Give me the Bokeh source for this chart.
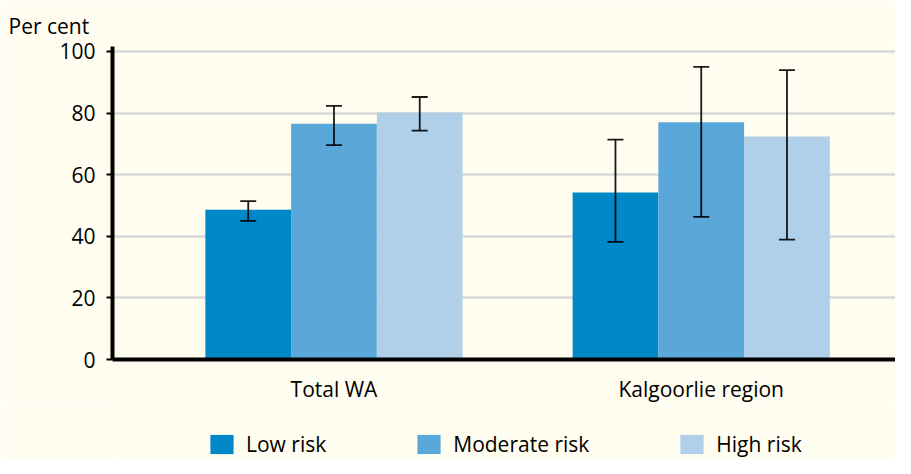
from bokeh.plotting import figure
from bokeh.layouts import column
from bokeh.models import (ColumnDataSource, Whisker, TeeHead, FixedTicker, Legend, LegendItem, Range1d)
from bokeh.embed import file_html
from bokeh.resources import INLINE

# ---- data ----
regions = ["Total WA", "Kalgoorlie region"]
series = ["Low risk", "Moderate risk", "High risk"]
low_vals = [48.6, 54.2]
mod_vals = [76.5, 77.0]
high_vals = [80.2, 72.4]
low_err_lo = [45.0, 38.2]
low_err_hi = [51.4, 71.4]
mod_err_lo = [69.6, 46.3]
mod_err_hi = [82.3, 95.0]
high_err_lo = [74.3, 38.9]
high_err_hi = [85.2, 93.9]
y_ticks = [0, 20, 40, 60, 80, 100]
colors = ["#0088C8", "#5AA8D9", "#B0D0EA"]

FONT = "Open Sans"
BG = "#FFFDEF"

p = figure(width=895, height=405, output_backend="svg", toolbar_location=None,
           x_range=Range1d(-0.6031, 1.529), y_range=Range1d(0, 101.6),
           min_border_left=112, min_border_right=0, min_border_top=46, min_border_bottom=44,
           background_fill_color=BG, border_fill_color=BG, outline_line_color=None)

width = 0.2335
offsets = [-width, 0.0, width]
vals = [low_vals, mod_vals, high_vals]
los = [low_err_lo, mod_err_lo, high_err_lo]
his = [low_err_hi, mod_err_hi, high_err_hi]

for i in range(3):
    xs = [k + offsets[i] for k in range(len(regions))]
    src = ColumnDataSource(dict(x=xs, top=vals[i], lo=los[i], hi=his[i]))
    p.vbar(x="x", top="top", width=width, source=src, fill_color=colors[i], line_color=None)
    w = Whisker(base="x", lower="lo", upper="hi", source=src, level="overlay",
                line_color="black", line_width=1.8, line_alpha=0.9,
                upper_head=TeeHead(size=16, line_color="black", line_width=1.8, line_alpha=0.9),
                lower_head=TeeHead(size=16, line_color="black", line_width=1.8, line_alpha=0.9))
    p.add_layout(w)

# grid
p.xgrid.visible = False
p.ygrid.ticker = FixedTicker(ticks=y_ticks[1:])
p.ygrid.grid_line_color = "#D9D9D9"
p.ygrid.grid_line_width = 2.5

# y axis
p.yaxis.ticker = FixedTicker(ticks=y_ticks)
p.yaxis.axis_line_width = 4
p.yaxis.axis_line_color = "black"
p.yaxis.major_tick_out = 6
p.yaxis.major_tick_in = 0
p.yaxis.major_tick_line_width = 2
p.yaxis.minor_tick_line_color = None
p.yaxis.major_label_standoff = 11
p.yaxis.major_label_text_font = FONT
p.yaxis.major_label_text_font_size = "21px"
p.yaxis.major_label_text_color = "black"

# x axis
p.xaxis.ticker = FixedTicker(ticks=[0, 1])
p.xaxis.major_label_overrides = {0: regions[0], 1: regions[1]}
p.xaxis.axis_line_width = 4
p.xaxis.axis_line_color = "black"
p.xaxis.major_tick_line_color = None
p.xaxis.minor_tick_line_color = None
p.xaxis.major_label_standoff = 9
p.xaxis.major_label_text_font = FONT
p.xaxis.major_label_text_font_size = "21px"
p.xaxis.major_label_text_color = "black"

# title
p.title.text = "Per cent"
p.title.align = "left"
p.title.offset = -104
p.title.standoff = 13
p.title.text_font = FONT
p.title.text_font_size = "21px"
p.title.text_font_style = "normal"
p.title.text_color = "black"

# legend strip (separate figure so it is not clipped by the chart frame)
lg = figure(width=895, height=53, output_backend="svg", toolbar_location=None,
            x_range=Range1d(0, 1), y_range=Range1d(0, 1),
            x_axis_type=None, y_axis_type=None,
            min_border=0, background_fill_color=BG, border_fill_color=BG, outline_line_color=None)
lg.grid.visible = False
dummies = []
for i in range(3):
    # zero-height placeholder bars: only used to feed legend swatches
    r = lg.vbar(x=[-5], top=[0], bottom=[0], width=0.1, fill_color=colors[i], line_color=None)
    dummies.append(r)
legend = Legend(items=[LegendItem(label=series[i], renderers=[dummies[i]]) for i in range(3)],
                orientation="horizontal", location=(95, 0),
                glyph_width=29, glyph_height=24, label_standoff=10, spacing=88,
                padding=0, margin=0, border_line_color=None, background_fill_alpha=0,
                label_text_font=FONT, label_text_font_size="21px", label_text_color="black",
                label_height=24)
lg.add_layout(legend, "center")

layout = column(p, lg, spacing=0)
open("out.html", "w").write(file_html(layout, INLINE))
